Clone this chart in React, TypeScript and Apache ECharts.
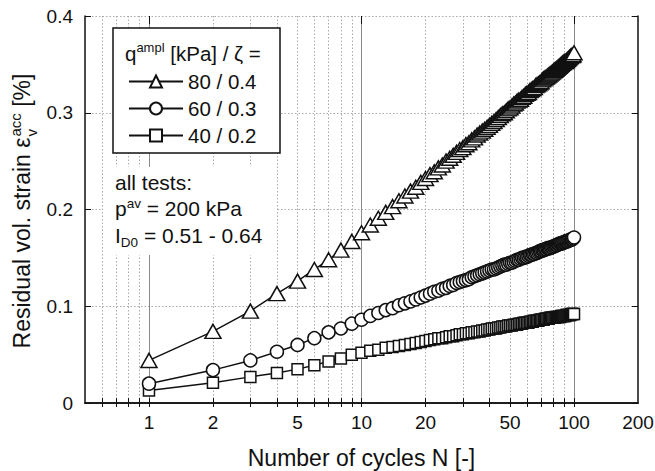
import React, { useEffect, useRef } from 'react';
import * as echarts from 'echarts';

const FONT = "'Liberation Sans', Arial, Helvetica, sans-serif";
const INK = '#111';

// Number of cycles N
const cycles = [
  1, 2, 3, 4, 5, 6, 7, 8, 9, 10,
  11, 12, 13, 14, 15, 16, 17, 18, 19, 20,
  21, 22, 23, 24, 25, 26, 27, 28, 29, 30,
  31, 32, 33, 34, 35, 36, 37, 38, 39, 40,
  41, 42, 43, 44, 45, 46, 47, 48, 49, 50,
  51, 52, 53, 54, 55, 56, 57, 58, 59, 60,
  61, 62, 63, 64, 65, 66, 67, 68, 69, 70,
  71, 72, 73, 74, 75, 76, 77, 78, 79, 80,
  81, 82, 83, 84, 85, 86, 87, 88, 89, 90,
  91, 92, 93, 94, 95, 96, 97, 98, 99, 100,
];

// Residual volumetric strain [%], q_ampl = 80 kPa / zeta = 0.4
const strain80 = [
  0.044, 0.074, 0.095, 0.113, 0.126, 0.138, 0.148, 0.158, 0.167, 0.176,
  0.184, 0.191, 0.197, 0.203, 0.209, 0.214, 0.219, 0.223, 0.228, 0.232,
  0.236, 0.239, 0.243, 0.246, 0.250, 0.253, 0.256, 0.259, 0.262, 0.264,
  0.267, 0.269, 0.272, 0.274, 0.277, 0.279, 0.281, 0.283, 0.285, 0.287,
  0.289, 0.291, 0.293, 0.295, 0.297, 0.299, 0.300, 0.302, 0.304, 0.305,
  0.307, 0.309, 0.310, 0.312, 0.313, 0.314, 0.316, 0.317, 0.319, 0.320,
  0.321, 0.323, 0.324, 0.325, 0.326, 0.328, 0.329, 0.330, 0.331, 0.332,
  0.334, 0.335, 0.336, 0.337, 0.338, 0.339, 0.340, 0.341, 0.342, 0.343,
  0.344, 0.345, 0.346, 0.347, 0.348, 0.349, 0.350, 0.351, 0.352, 0.353,
  0.353, 0.354, 0.355, 0.356, 0.357, 0.358, 0.359, 0.359, 0.360, 0.362,
];

// q_ampl = 60 kPa / zeta = 0.3
const strain60 = [
  0.020, 0.034, 0.044, 0.053, 0.060, 0.067, 0.073, 0.077, 0.082, 0.086,
  0.090, 0.093, 0.096, 0.098, 0.101, 0.103, 0.105, 0.107, 0.109, 0.111,
  0.113, 0.115, 0.116, 0.118, 0.119, 0.121, 0.122, 0.124, 0.125, 0.126,
  0.127, 0.128, 0.130, 0.131, 0.132, 0.133, 0.134, 0.135, 0.136, 0.137,
  0.138, 0.138, 0.139, 0.140, 0.141, 0.142, 0.143, 0.143, 0.144, 0.145,
  0.145, 0.146, 0.147, 0.148, 0.148, 0.149, 0.150, 0.150, 0.151, 0.151,
  0.152, 0.153, 0.153, 0.154, 0.154, 0.155, 0.155, 0.156, 0.157, 0.157,
  0.158, 0.158, 0.159, 0.159, 0.160, 0.160, 0.160, 0.161, 0.161, 0.162,
  0.162, 0.163, 0.163, 0.164, 0.164, 0.165, 0.165, 0.165, 0.166, 0.166,
  0.167, 0.167, 0.167, 0.168, 0.168, 0.169, 0.169, 0.169, 0.170, 0.171,
];

// q_ampl = 40 kPa / zeta = 0.2
const strain40 = [
  0.013, 0.021, 0.027, 0.031, 0.035, 0.039, 0.043, 0.046, 0.050, 0.052,
  0.054, 0.055, 0.057, 0.058, 0.059, 0.060, 0.061, 0.062, 0.063, 0.064,
  0.065, 0.066, 0.067, 0.067, 0.068, 0.069, 0.069, 0.070, 0.071, 0.071,
  0.072, 0.072, 0.073, 0.073, 0.074, 0.074, 0.075, 0.075, 0.076, 0.076,
  0.077, 0.077, 0.077, 0.078, 0.078, 0.079, 0.079, 0.079, 0.080, 0.080,
  0.080, 0.081, 0.081, 0.081, 0.082, 0.082, 0.082, 0.083, 0.083, 0.083,
  0.083, 0.084, 0.084, 0.084, 0.085, 0.085, 0.085, 0.085, 0.086, 0.086,
  0.086, 0.086, 0.087, 0.087, 0.087, 0.087, 0.088, 0.088, 0.088, 0.088,
  0.088, 0.089, 0.089, 0.089, 0.089, 0.089, 0.090, 0.090, 0.090, 0.090,
  0.090, 0.091, 0.091, 0.091, 0.091, 0.091, 0.092, 0.092, 0.092, 0.092,
];

const seriesNames = ['80 / 0.4', '60 / 0.3', '40 / 0.2'];
const seriesSymbols = ['triangle', 'circle', 'rect'];
const xLabelValues = [1, 2, 5, 10, 20, 50, 100, 200];
const xTickValues = [0.6, 0.7, 0.8, 0.9, 1, 2, 3, 4, 5, 6, 7, 8, 9, 10, 20, 30, 40, 50, 60, 70, 80, 90, 100];
const xMajorValues = [1, 10, 100];
const yMin = 0;
const yMax = 0.4;
const yInterval = 0.1;

function measure(text: string, size: number): number {
  const c = document.createElement('canvas').getContext('2d');
  if (!c) return text.length * size * 0.55;
  c.font = `${size}px ${FONT}`;
  return c.measureText(text).width;
}

export default function App() {
  const ref = useRef<HTMLDivElement>(null);

  useEffect(() => {
    if (!ref.current) return;
    const chart = echarts.init(ref.current, undefined, { renderer: 'svg' });

    const valueSets = [strain80, strain60, strain40];
    const symbolSizes: any[] = [[16, 14], 13, 11];

    const series = seriesNames.map((name, i) => ({
      name,
      type: 'line',
      xAxisIndex: 0,
      yAxisIndex: 0,
      data: cycles.map((n, j) => [n, valueSets[i][j]]),
      symbol: seriesSymbols[i],
      symbolSize: symbolSizes[i],
      showAllSymbol: true,
      lineStyle: { color: INK, width: 1.5 },
      itemStyle: { color: '#fff', borderColor: INK, borderWidth: 1.5 },
      emphasis: { disabled: true },
      z: 3 - i + 2,
    }));

    // y-axis title layout (rotated group)
    const tSize = 23;
    const sSize = 15;
    const partA = 'Residual vol. strain ε';
    const partB = ' [%]';
    const wA = measure(partA, tSize);
    const wS = measure('acc', sSize);
    const wV = measure('v', sSize);
    const wB = measure(partB, tSize);
    const total = wA + 1 + Math.max(wS, wV) + wB;
    const x0 = -total / 2;
    const txt = (extra: any) => ({ fontFamily: FONT, fill: INK, verticalAlign: 'middle', align: 'left', ...extra });

    const xBase = {
      type: 'log',
      logBase: 10,
      min: 0.5,
      max: 200,
      gridIndex: 0,
    };

    const option: any = {
      animation: false,
      backgroundColor: '#fff',
      textStyle: { fontFamily: FONT },
      grid: { left: 85, right: 17, top: 16, bottom: 68, containLabel: false, outerBoundsMode: 'none' },
      legend: {
        data: seriesNames,
        orient: 'vertical',
        left: 128,
        top: 71,
        itemWidth: 54,
        itemHeight: 15,
        itemGap: 6,
        padding: 0,
        selectedMode: false,
        z: 10,
        textStyle: { fontSize: 20.5, color: INK, fontFamily: FONT },
      },
      xAxis: [
        {
          ...xBase,
          position: 'bottom',
          name: 'Number of cycles N [-]',
          nameLocation: 'middle',
          nameGap: 43,
          nameTextStyle: { fontSize: 23, color: INK, fontFamily: FONT },
          axisLine: { show: true, lineStyle: { color: INK, width: 1.5 } },
          axisTick: { show: true, inside: true, length: 5, customValues: xTickValues, lineStyle: { color: INK, width: 1 } },
          axisLabel: { show: true, customValues: xLabelValues, fontSize: 19, color: INK, margin: 10, fontFamily: FONT, formatter: (v: number) => String(v) },
          splitLine: { show: true, lineStyle: { color: '#aaa', width: 1, type: [1.5, 2] } },
          minorTick: { show: false },
          minorSplitLine: { show: false },
        },
        {
          ...xBase,
          position: 'top',
          axisLine: { show: true, lineStyle: { color: INK, width: 1.5 } },
          axisTick: { show: true, inside: true, length: 4, customValues: xTickValues, lineStyle: { color: INK, width: 1 } },
          axisLabel: { show: false },
          splitLine: { show: false },
        },
        {
          ...xBase,
          position: 'top',
          axisLine: { show: false },
          axisTick: { show: true, inside: true, length: 8, customValues: xMajorValues, lineStyle: { color: INK, width: 1 } },
          axisLabel: { show: false },
          splitLine: { show: true, lineStyle: { color: '#8a8a8a', width: 1, type: 'solid' } },
        },
      ],
      yAxis: [
        {
          type: 'value',
          min: yMin,
          max: yMax,
          interval: yInterval,
          position: 'left',
          axisLine: { show: true, lineStyle: { color: INK, width: 1.5 } },
          axisTick: { show: true, inside: true, length: 6, lineStyle: { color: INK, width: 1 } },
          axisLabel: { fontSize: 19, color: INK, margin: 12, fontFamily: FONT },
          splitLine: { show: true, lineStyle: { color: '#aaa', width: 1, type: [1.5, 2] } },
        },
        {
          type: 'value',
          min: yMin,
          max: yMax,
          interval: yInterval,
          position: 'right',
          axisLine: { show: true, lineStyle: { color: INK, width: 1.5 } },
          axisTick: { show: true, inside: true, length: 6, lineStyle: { color: INK, width: 1 } },
          axisLabel: { show: false },
          splitLine: { show: false },
        },
      ],
      series,
      graphic: [
        {
          type: 'rect',
          z: 8,
          shape: { x: 113, y: 28, width: 167, height: 125 },
          style: { fill: '#fff', stroke: INK, lineWidth: 1.5 },
        },
        {
          type: 'text',
          z: 9,
          x: 125,
          y: 53,
          style: txt({
            text: 'q{sup|ampl} [kPa] / ζ =',
            fontSize: 20.5,
            lineHeight: 24,
            rich: { sup: { fontSize: 13, lineHeight: 13, verticalAlign: 'top', fontFamily: FONT, fill: INK } },
          }),
        },
        {
          type: 'rect',
          z: 8,
          shape: { x: 103, y: 167, width: 174, height: 88 },
          style: { fill: '#fff' },
        },
        {
          type: 'text',
          z: 9,
          x: 115,
          y: 182,
          style: txt({ text: 'all tests:', fontSize: 21 }),
        },
        {
          type: 'text',
          z: 9,
          x: 115,
          y: 208,
          style: txt({
            text: 'p{sup|av} = 200 kPa',
            fontSize: 21,
            lineHeight: 24,
            rich: { sup: { fontSize: 13.5, lineHeight: 13, verticalAlign: 'top', fontFamily: FONT, fill: INK } },
          }),
        },
        {
          type: 'text',
          z: 9,
          x: 115,
          y: 235,
          style: txt({
            text: 'I{sub|D0} = 0.51 - 0.64',
            fontSize: 21,
            lineHeight: 28,
            rich: { sub: { fontSize: 13.5, lineHeight: 13, verticalAlign: 'bottom', fontFamily: FONT, fill: INK } },
          }),
        },
        {
          type: 'group',
          x: 22,
          y: 211,
          rotation: Math.PI / 2,
          z: 9,
          children: [
            { type: 'text', z: 9, x: x0, y: 0, style: txt({ text: partA, fontSize: tSize }) },
            { type: 'text', z: 9, x: x0 + wA + 1, y: -7, style: txt({ text: 'acc', fontSize: sSize }) },
            { type: 'text', z: 9, x: x0 + wA + 1, y: 9, style: txt({ text: 'v', fontSize: sSize }) },
            { type: 'text', z: 9, x: x0 + wA + 1 + Math.max(wS, wV), y: 0, style: txt({ text: partB, fontSize: tSize }) },
          ],
        },
      ],
    };

    chart.setOption(option);
    return () => chart.dispose();
  }, []);

  return (
    <div
      ref={ref}
      style={{ position: 'absolute', left: 0, top: 0, width: 655, height: 471, background: '#fff' }}
    />
  );
}
